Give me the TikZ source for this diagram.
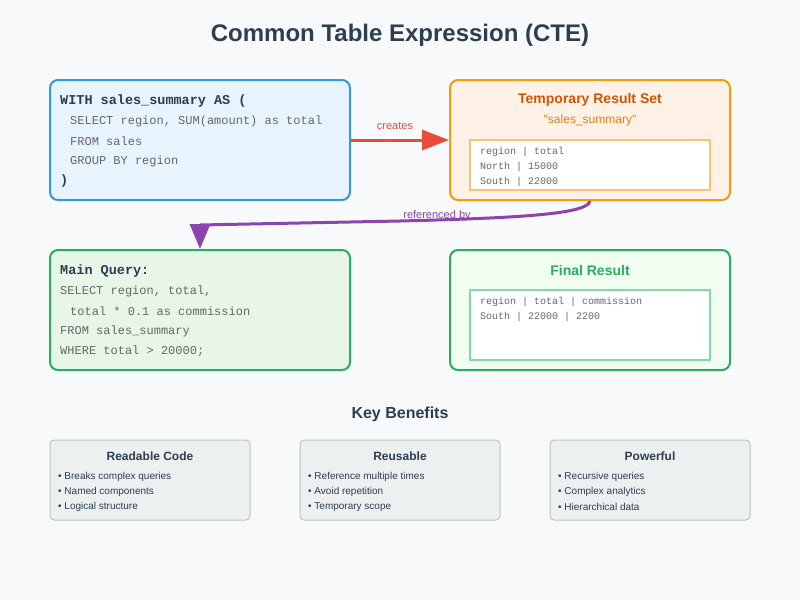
\documentclass[tikz,border=0pt]{standalone}
\usepackage{fontspec}
\setmainfont{Liberation Sans}
\setmonofont{Liberation Mono}
\usetikzlibrary{arrows.meta,positioning}

\definecolor{bgcol}{HTML}{F8F9FA}
\definecolor{ink}{HTML}{2C3E50}
\definecolor{codegray}{HTML}{666666}
\definecolor{blueline}{HTML}{3498DB}
\definecolor{bluefill}{HTML}{E8F4FD}
\definecolor{orangeline}{HTML}{F39C12}
\definecolor{orangefill}{HTML}{FEF2E6}
\definecolor{orangetext}{HTML}{D35400}
\definecolor{orangesub}{HTML}{E67E22}
\definecolor{orangeinner}{HTML}{F8C471}
\definecolor{greenline}{HTML}{27AE60}
\definecolor{greenfill}{HTML}{E8F6E8}
\definecolor{greenfilltwo}{HTML}{F0FDF0}
\definecolor{greeninner}{HTML}{82D9A6}
\definecolor{redarrow}{HTML}{E74C3C}
\definecolor{purplearrow}{HTML}{8E44AD}
\definecolor{benefitfill}{HTML}{ECF0F1}
\definecolor{benefitline}{HTML}{BDC3C7}

\tikzset{
  bigbox/.style={draw,line width=2pt,rounded corners=8pt,minimum width=#1,minimum height=120pt,inner sep=0pt},
  tablebox/.style={draw,fill=white,line width=1.5pt,minimum width=240pt,inner sep=0pt},
  benefitbox/.style={draw=benefitline,fill=benefitfill,line width=1pt,rounded corners=4pt,minimum width=200pt,minimum height=80pt,inner sep=0pt},
  codehead/.style={anchor=west,inner sep=0pt,text=ink,font=\fontsize{13.5}{16}\selectfont\ttfamily\bfseries},
  code/.style={anchor=west,inner sep=0pt,text=codegray,font=\fontsize{12}{14}\selectfont\ttfamily},
  tabletext/.style={anchor=west,inner sep=0pt,text=codegray,font=\fontsize{10}{12}\selectfont\ttfamily},
  boxtitle/.style={inner sep=0pt,font=\fontsize{14}{17}\selectfont\bfseries},
  benefittitle/.style={inner sep=0pt,text=ink,font=\fontsize{12}{14}\selectfont\bfseries},
  bullet/.style={anchor=west,inner sep=0pt,text=ink,font=\fontsize{10}{12}\selectfont},
  arrowlabel/.style={inner sep=0pt,font=\fontsize{11}{13}\selectfont}
}

\begin{document}
\begin{tikzpicture}[x=1pt,y=-1pt]
\fill[bgcol] (0,0) rectangle (800,600);
\useasboundingbox (0,0) rectangle (800,600);

\node[inner sep=0pt,text=ink,font=\fontsize{24}{28}\selectfont\bfseries] (title) at (400,35) {Common Table Expression (CTE)};

% CTE definition
\node[bigbox=300pt,draw=blueline,fill=bluefill] (with) at (200,140) {};
\node[codehead] (w1) at (60,101) {WITH sales\_summary AS (};
\node[code] (w2) at (70,121) {SELECT region, SUM(amount) as total};
\node[code] (w3) at (70,141) {FROM sales};
\node[code] (w4) at (70,161) {GROUP BY region};
\node[codehead] (w5) at (60,181) {)};

% temporary result
\node[bigbox=280pt,draw=orangeline,fill=orangefill] (temp) at (590,140) {};
\node[boxtitle,text=orangetext] (temptitle) at (590,100) {Temporary Result Set};
\node[inner sep=0pt,text=orangesub,font=\fontsize{12}{14}\selectfont] (tempname) at (590,120) {\textquotedbl sales\_summary\textquotedbl};
\node[tablebox,draw=orangeinner,minimum height=50pt] (temptable) at (590,165) {};
\node[tabletext] (t1) at (480,152) {region | total};
\node[tabletext] (t2) at (480,167) {North | 15000};
\node[tabletext] (t3) at (480,182) {South | 22000};

% main query
\node[bigbox=300pt,draw=greenline,fill=greenfill] (main) at (200,310) {};
\node[codehead] (m1) at (60,271) {Main Query:};
\node[code] (m2) at (60,291) {SELECT region, total,};
\node[code] (m3) at (70,311) {total * 0.1 as commission};
\node[code] (m4) at (60,331) {FROM sales\_summary};
\node[code] (m5) at (60,351) {WHERE total > 20000;};

% final result
\node[bigbox=280pt,draw=greenline,fill=greenfilltwo] (final) at (590,310) {};
\node[boxtitle,text=greenline] (finaltitle) at (590,270) {Final Result};
\node[tablebox,draw=greeninner,minimum height=70pt] (finaltable) at (590,325) {};
\node[tabletext] (f1) at (480,302) {region | total | commission};
\node[tabletext] (f2) at (480,317) {South | 22000 | 2200};

% arrows
\draw[redarrow,line width=3pt,-{Triangle[length=27pt,width=20pt]}] (with.east) -- (temp.west);
\node[arrowlabel,text=redarrow] (creates) at (395,126) {creates};
\coordinate (bend) at (200,225);
\draw[purplearrow,line width=3pt,-{Triangle[length=25pt,width=20pt]}]
  (temp.south) .. controls (588,214) and (520,218) .. (400,221) -- (bend) -- (main.north);
\node[arrowlabel,text=purplearrow] (refby) at (437,216) {referenced by};

% benefits
\node[inner sep=0pt,text=ink,font=\fontsize{16}{19}\selectfont\bfseries] (keyben) at (400,414) {Key Benefits};

\node[benefitbox] (b1) at (150,480) {};
\node[benefittitle] (b1t) at (150,456) {Readable Code};
\node[bullet] (b1a) at (58,477) {• Breaks complex queries};
\node[bullet] (b1b) at (58,492) {• Named components};
\node[bullet] (b1c) at (58,507) {• Logical structure};

\node[benefitbox] (b2) at (400,480) {};
\node[benefittitle] (b2t) at (400,456) {Reusable};
\node[bullet] (b2a) at (308,477) {• Reference multiple times};
\node[bullet] (b2b) at (308,492) {• Avoid repetition};
\node[bullet] (b2c) at (308,507) {• Temporary scope};

\node[benefitbox] (b3) at (650,480) {};
\node[benefittitle] (b3t) at (650,456) {Powerful};
\node[bullet] (b3a) at (558,477) {• Recursive queries};
\node[bullet] (b3b) at (558,492) {• Complex analytics};
\node[bullet] (b3c) at (558,507) {• Hierarchical data};
\end{tikzpicture}
\end{document}
